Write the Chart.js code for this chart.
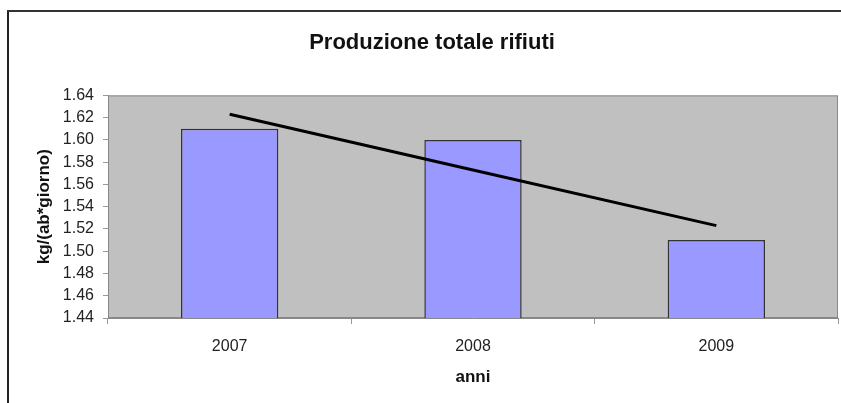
<!DOCTYPE html>
<html>
<head>
<meta charset="utf-8">
<script src="https://cdn.jsdelivr.net/npm/chart.js@4"></script>
<style>
  html, body { margin: 0; background: #fff; overflow: hidden; width: 841px; height: 403px; }
  #lineLeft { position: absolute; left: 7px; top: 10px; width: 2px; height: 393px; background: #222; }
  #lineTop { position: absolute; left: 7px; top: 10px; width: 834px; height: 2px; background: #333; }
  #wrap { position: absolute; left: 9px; top: 12px; width: 832px; height: 391px; overflow: hidden; }
</style>
</head>
<body>
<div id="lineLeft"></div>
<div id="lineTop"></div>
<div id="wrap"><canvas id="myChart" width="846" height="391"></canvas></div>
<script>
const years = ["2007", "2008", "2009"];
const production = [1.61, 1.60, 1.51];
const trend = [1.623, 1.573, 1.523];
const yTicks = [1.44, 1.46, 1.48, 1.50, 1.52, 1.54, 1.56, 1.58, 1.60, 1.62, 1.64];

// grey plot area with thin border, like the spreadsheet original
const plotBg = {
  id: "plotBg",
  beforeDraw(chart) {
    const { ctx, chartArea: a } = chart;
    ctx.save();
    ctx.fillStyle = "#c0c0c0";
    ctx.fillRect(a.left, a.top, a.right - a.left, a.bottom - a.top);
    ctx.strokeStyle = "#888";
    ctx.lineWidth = 1;
    ctx.strokeRect(a.left + 0.5, a.top + 0.5, a.right - a.left - 1, a.bottom - a.top - 1);
    ctx.restore();
  },
};

const ctx = document.getElementById("myChart").getContext("2d");

new Chart(ctx, {
  type: "bar",
  data: {
    labels: years,
    datasets: [
      {
        type: "line",
        label: "Trend",
        data: trend,
        borderColor: "#000",
        borderWidth: 3,
        pointRadius: 0,
        fill: false,
        order: 1,
      },
      {
        label: "Produzione",
        data: production,
        backgroundColor: "#9999ff",
        borderColor: "#333",
        borderWidth: 1.5,
        categoryPercentage: 1,
        barPercentage: 0.4,
        order: 2,
      },
    ],
  },
  options: {
    responsive: false,
    animation: false,
    layout: { padding: { left: 17, right: 17, top: 0, bottom: 0 } },
    plugins: {
      legend: { display: false },
      tooltip: { enabled: false },
      title: {
        display: true,
        text: "Produzione totale rifiuti",
        color: "#111",
        font: { family: "Arial, 'Liberation Sans'", size: 22, weight: "bold" },
        padding: { top: 18, bottom: 39 },
      },
    },
    scales: {
      x: {
        afterFit: (s) => { s.height = 85; },
        grid: {
          offset: true,
          drawOnChartArea: false,
          tickLength: 6,
          color: "#999",
        },
        border: { color: "#888" },
        ticks: {
          padding: 13,
          color: "#222",
          font: { family: "Arial, 'Liberation Sans'", size: 16 },
        },
        title: {
          display: true,
          text: "anni",
          color: "#111",
          font: { family: "Arial, 'Liberation Sans'", size: 17, weight: "bold" },
          padding: { top: 0, bottom: 15 },
        },
      },
      y: {
        min: 1.44,
        max: 1.64,
        afterFit: (s) => { s.width = 82; },
        afterBuildTicks: (s) => { s.ticks = yTicks.map((v) => ({ value: v })); },
        grid: {
          drawOnChartArea: false,
          tickLength: 5,
          color: "#999",
        },
        border: { color: "#888" },
        ticks: {
          padding: 9,
          color: "#222",
          font: { family: "Arial, 'Liberation Sans'", size: 16 },
          callback: (v) => Number(v).toFixed(2),
        },
        title: {
          display: true,
          text: "kg/(ab*giorno)",
          color: "#111",
          font: { family: "Arial, 'Liberation Sans'", size: 17, weight: "bold" },
          padding: { top: 8, bottom: 0 },
        },
      },
    },
  },
  plugins: [plotBg],
});
</script>
</body>
</html>
